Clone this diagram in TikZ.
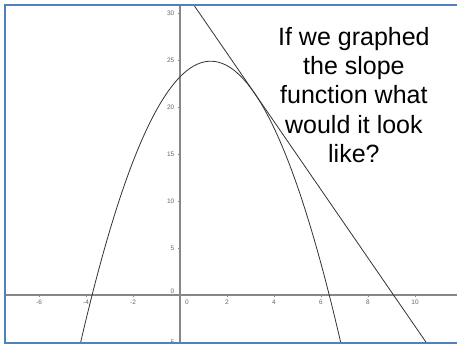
\documentclass[tikz,border=0pt]{standalone}
\usepackage{fontspec}
\setmainfont{Liberation Sans}
\usepackage{tikz}
\usetikzlibrary{positioning}
\definecolor{framebl}{RGB}{79,129,189}
\definecolor{axisgr}{RGB}{135,135,135}

\begin{document}
\begin{tikzpicture}[x=23.5pt,y=9.4pt,
  axisline/.style={draw=axisgr,line width=1.4pt},
  curve/.style={draw=black!80,line width=0.8pt},
  tick/.style={draw=axisgr,line width=0.6pt},
  ticklab/.style={font=\fontsize{6.5}{7}\selectfont,text=black!60,inner sep=1pt},
  question/.style={font=\fontsize{25}{29.3}\selectfont,align=center,text=black}
]
% page: 457 x 344, origin of the graph at (180,295)
\useasboundingbox (-7.6596,-5.2128) rectangle (11.7872,31.383);

\coordinate (xmin) at (-7.447,0);
\coordinate (xmax) at (11.787,0);
\coordinate (ymin) at (0,-5.3);
\coordinate (ymax) at (0,30.851);
\coordinate (tanA) at (0.4,31.53);
\coordinate (tanB) at (10.7,-5.86);

\begin{scope}
\clip (-7.447,-5.106) rectangle (11.787,30.851);
\draw[axisline] (xmin) -- (xmax);
\draw[axisline] (ymin) -- (ymax);
% ticks and labels
\foreach \v in {-6,-4,-2,2,4,6,8,10}{
  \draw[tick] (\v,0) -- ++(0,-2pt);
  \node[ticklab,anchor=north,yshift=-3.5pt] (xt\v) at (\v,0) {\v};
}
\foreach \v in {-5,5,10,15,20,25,30}{
  \draw[tick] (0,\v) -- ++(-2pt,0);
  \node[ticklab,anchor=east,xshift=-4.5pt] (yt\v) at (0,\v) {\v};
}
\node[ticklab,anchor=south east,xshift=-4.5pt,yshift=0.5pt] (yzero) at (0,0) {0};
\node[ticklab,anchor=north west,xshift=4pt,yshift=-3.5pt] (xzero) at (0,0) {0};
% function and tangent line
\draw[curve,domain=-4.5:7.1,samples=120] plot (\x,{24.87-0.977*(\x-1.305)^2});
\draw[curve] (tanA) -- (tanB);
\end{scope}

\node[question] (ask) at (7.40,21.3) {If we graphed\\the slope\\function what\\would it look\\like?};

% slide frame
\draw[framebl,line width=1.4pt] (11.787,30.851) -- (-7.447,30.851) -- (-7.447,-5.106) -- (11.787,-5.106);
\end{tikzpicture}
\end{document}
